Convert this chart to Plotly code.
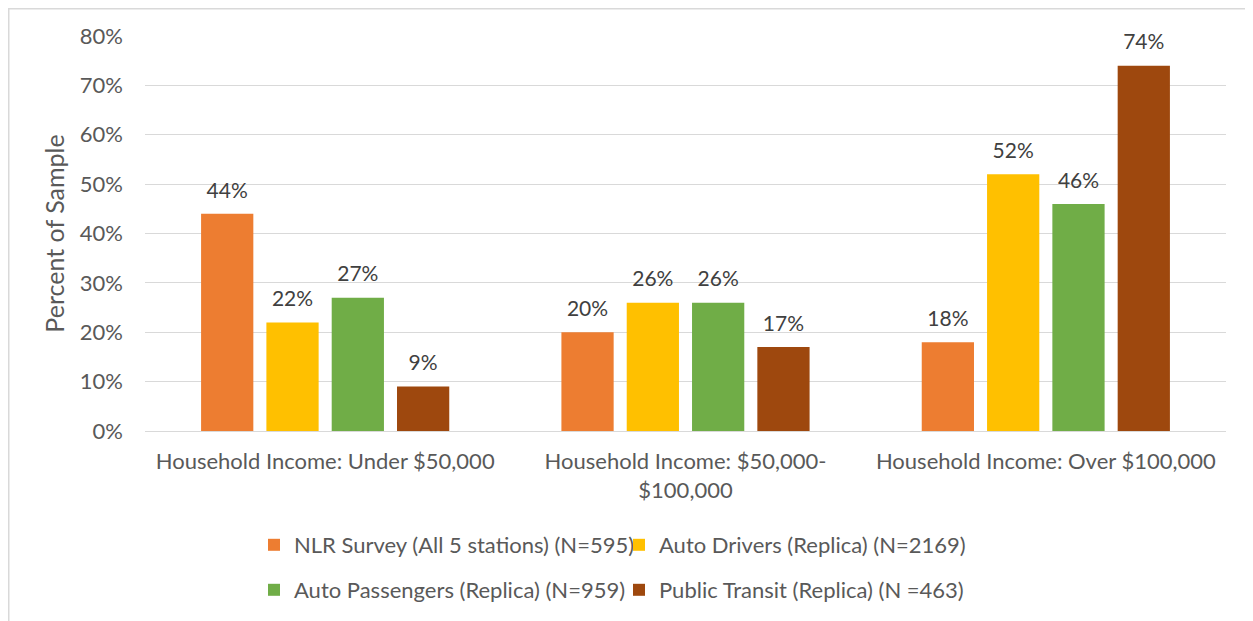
import plotly.graph_objects as go

categories = ["Household Income: Under $50,000",
              "Household Income: $50,000-<br>$100,000",
              "Household Income: Over $100,000"]
series_names = ["NLR Survey (All 5 stations) (N=595)",
                "Auto Drivers (Replica) (N=2169)",
                "Auto Passengers (Replica) (N=959)",
                "Public Transit (Replica) (N =463)"]
nlr = [44, 20, 18]
drivers = [22, 26, 52]
passengers = [27, 26, 46]
transit = [9, 17, 74]
colors = ["#ED7D31", "#FFC000", "#70AD47", "#9E480E"]
tick_vals = [0, 10, 20, 30, 40, 50, 60, 70, 80]
tick_text = [f"{v}%" for v in tick_vals]

FONT = "Lato"
OFF = 8  # page body margin
W, H = 1253 - OFF, 621 - OFF
L, R, T, B = 145 - OFF, 27, 36 - OFF, 621 - 432
pw, ph = W - L - R, H - T - B
GAP = 0.275

def px(x):
    return (x - OFF - L) / pw

def py(y):
    return (H - B - (y - OFF)) / ph

fig = go.Figure()
all_vals = [nlr, drivers, passengers, transit]
for i, (name, vals) in enumerate(zip(series_names, all_vals)):
    fig.add_trace(go.Bar(
        x=categories, y=vals, name=name,
        marker=dict(color=colors[i], line=dict(width=0)),
        offsetgroup=str(i), alignmentgroup="a",
        legend="legend" if i < 2 else "legend2",
        hoverinfo="skip",
    ))
for i, vals in enumerate(all_vals):
    fig.add_trace(go.Scatter(
        x=categories, y=vals, mode="markers+text",
        text=[f"{v}%" for v in vals], textposition="top center",
        textfont=dict(family=FONT, size=21, color="#404040"),
        marker=dict(size=16, opacity=0),
        offsetgroup=str(i), alignmentgroup="a",
        showlegend=False, cliponaxis=False, hoverinfo="skip",
    ))

leg_common = dict(orientation="h", x=px(254), xanchor="left", yanchor="middle",
                  entrywidth=320, entrywidthmode="pixels",
                  font=dict(family=FONT, size=22, color="#595959"), itemclick=False,
                  bgcolor="rgba(0,0,0,0)", traceorder="normal")

fig.update_layout(
    width=W, height=H,
    margin=dict(l=L, r=R, t=T, b=B, pad=0),
    paper_bgcolor="white", plot_bgcolor="white",
    barmode="group", bargap=GAP, bargroupgap=0.2,
    scattermode="group", scattergap=GAP,
    font=dict(family=FONT, color="#595959"),
    yaxis=dict(range=[0, 80], tickvals=tick_vals, ticktext=tick_text,
               gridcolor="#D9D9D9", gridwidth=1, zeroline=False,
               tickfont=dict(size=22, color="#595959"), ticks="", ticklabelstandoff=21,
               title=dict(text="Percent of Sample", font=dict(size=25, color="#595959"), standoff=8),
               showline=False),
    xaxis=dict(tickfont=dict(size=22, color="#595959"), showline=True,
               linecolor="#D9D9D9", linewidth=1, ticks="", ticklabelstandoff=11),
    legend=dict(y=py(545), **leg_common),
    legend2=dict(y=py(590), **leg_common),
    shapes=[dict(type="rect", xref="paper", yref="paper",
                 x0=(0.75 - L) / pw, x1=(W + 20 - L) / pw,
                 y0=-(B + 20) / ph, y1=(H - B - 0.75) / ph,
                 line=dict(color="#D9D9D9", width=1.5), fillcolor="rgba(0,0,0,0)", layer="below")],
)
fig.write_html("out.html")
